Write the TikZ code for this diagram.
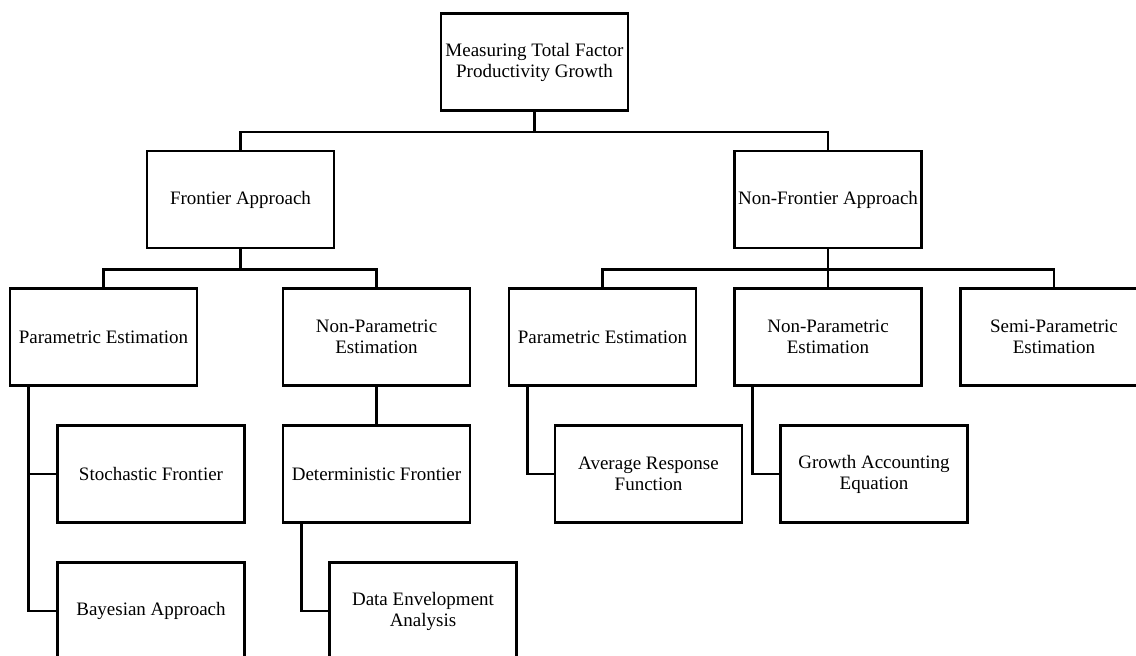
\documentclass[tikz,border=0pt]{standalone}
\usepackage{fontspec}
\setmainfont{Liberation Serif}

\begin{document}
\begin{tikzpicture}[x=1pt, y=-1pt]

    \tikzset{boxstyle/.style={draw, line width=2.8pt, rectangle, minimum width=187pt,
        minimum height=97pt, inner sep=0pt, align=center, font=\fontsize{19}{21}\selectfont}}
    \tikzset{linkstyle/.style={line width=2.8pt}}

    \useasboundingbox (0,0) rectangle (1136,656);
    \clip (0,0) rectangle (1136,656);

    \node[boxstyle] (root) at ( 534.5, 62) {Measuring Total Factor\\Productivity Growth};

    \node[boxstyle] (front) at ( 240.5, 199.5) {Frontier Approach};
    \node[boxstyle] (nfront) at ( 828, 199.5) {Non-Frontier Approach};

    \node[boxstyle] (fpar) at ( 103.5, 337) {Parametric Estimation};
    \node[boxstyle] (fnpar) at ( 376.5, 337) {Non-Parametric\\Estimation};
    \node[boxstyle] (npar) at ( 602.5, 337) {Parametric Estimation};
    \node[boxstyle] (nnpar) at ( 828, 337) {Non-Parametric\\Estimation};
    \node[boxstyle] (nsemi) at ( 1054, 337) {Semi-Parametric\\Estimation};

    \node[boxstyle] (stoch) at ( 151, 474) {Stochastic Frontier};
    \node[boxstyle] (determ) at ( 376.5, 474) {Deterministic Frontier};
    \node[boxstyle] (avgresp) at ( 648.5, 474) {Average Response\\Function};
    \node[boxstyle] (growth) at ( 874, 474) {Growth Accounting\\Equation};

    \node[boxstyle] (bayes) at ( 151, 611) {Bayesian Approach};
    \node[boxstyle] (dea) at ( 423, 611) {Data Envelopment\\Analysis};

    \begin{scope}[every path/.style={linkstyle}]
        \draw (root.south) -- ++(0,20) -| (front.north);
        \draw (root.south) -- ++(0,20) -| (nfront.north);

        \draw (front.south) -- ++(0,20) -| (fpar.north);
        \draw (front.south) -- ++(0,20) -| (fnpar.north);

        \draw (nfront.south) -- ++(0,20) -| (npar.north);
        \draw (nfront.south) -- (nnpar.north);
        \draw (nfront.south) -- ++(0,20) -| (nsemi.north);

        \draw (fnpar.south) -- (determ.north);

        \draw ([xshift=19.5pt]fpar.south west) |- (stoch.west);
        \draw ([xshift=19.5pt]fpar.south west) |- (bayes.west);
        \draw ([xshift=19.5pt]determ.south west) |- (dea.west);
        \draw ([xshift=19.5pt]npar.south west) |- (avgresp.west);
        \draw ([xshift=19.5pt]nnpar.south west) |- (growth.west);
    \end{scope}

\end{tikzpicture}
\end{document}
